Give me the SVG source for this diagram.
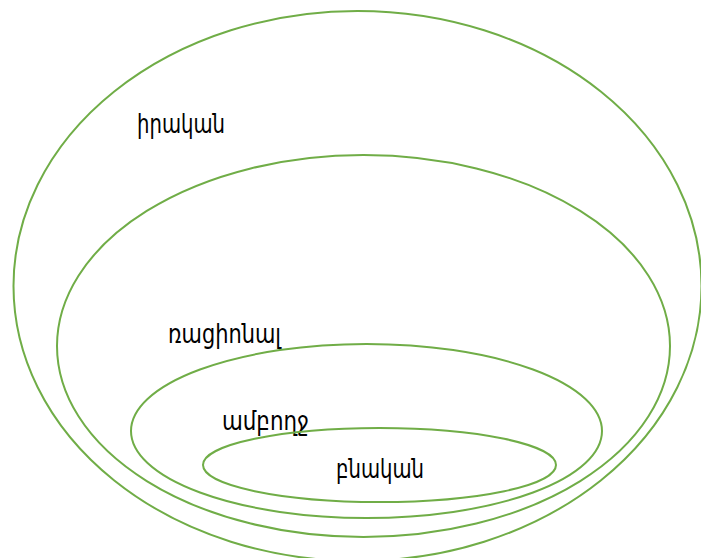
<svg xmlns="http://www.w3.org/2000/svg" width="701" height="558" viewBox="0 0 701 558">
<style>
.set{fill:none;stroke:#70AD47;stroke-width:2}
.lbl{font-family:"DejaVu Sans Condensed","DejaVu Sans","Noto Sans",sans-serif;font-size:27px;fill:#000}
</style>
<rect width="701" height="558" fill="#fff"/>
<g id="real"><ellipse class="set" cx="357.5" cy="286" rx="344" ry="275"/><text class="lbl" x="137" y="133" textLength="88" lengthAdjust="spacingAndGlyphs">իրական</text></g>
<g id="rational"><ellipse class="set" cx="363.5" cy="346" rx="306.5" ry="191"/><text class="lbl" x="168" y="343" textLength="113" lengthAdjust="spacingAndGlyphs">ռացիոնալ</text></g>
<g id="integer"><ellipse class="set" cx="366.5" cy="431" rx="235.5" ry="87"/><text class="lbl" x="222" y="430" textLength="87" lengthAdjust="spacingAndGlyphs">ամբողջ</text></g>
<g id="natural"><ellipse class="set" cx="379.5" cy="465" rx="176.5" ry="37"/><text class="lbl" x="336" y="478" textLength="88" lengthAdjust="spacingAndGlyphs">բնական</text></g>
<g id="connectors"/>
</svg>
